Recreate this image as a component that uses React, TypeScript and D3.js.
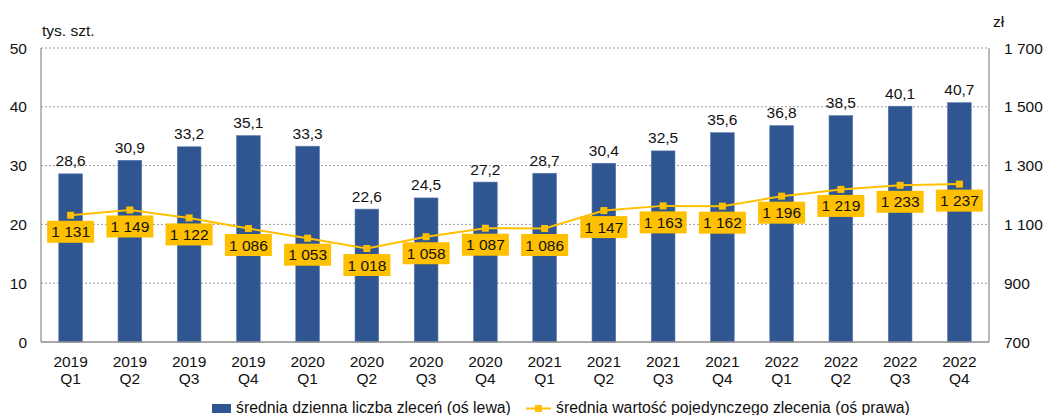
import React from "react";
import * as d3 from "d3";

const categories = ["2019 Q1","2019 Q2","2019 Q3","2019 Q4","2020 Q1","2020 Q2","2020 Q3","2020 Q4","2021 Q1","2021 Q2","2021 Q3","2021 Q4","2022 Q1","2022 Q2","2022 Q3","2022 Q4"];
const dailyOrders = [28.6, 30.9, 33.2, 35.1, 33.3, 22.6, 24.5, 27.2, 28.7, 30.4, 32.5, 35.6, 36.8, 38.5, 40.1, 40.7];
const avgValue = [1131, 1149, 1122, 1086, 1053, 1018, 1058, 1087, 1086, 1147, 1163, 1162, 1196, 1219, 1233, 1237];
const leftTicks = [0, 10, 20, 30, 40, 50];
const rightTicks = [700, 900, 1100, 1300, 1500, 1700];
const legendBar = "średnia dzienna liczba zleceń (oś lewa)";
const legendLine = "średnia wartość pojedynczego zlecenia (oś prawa)";

const W = 1044, H = 415;
const L = 41, R = 989, T = 48, B = 342;
const FONT = "'Liberation Sans', Arial, sans-serif";
const BAR = "#2F5690";
const GOLD = "#FFC000";
const AXIS = "#8C8C8C";
const FS = 15.5;

const fmtDec = (v: number) => v.toFixed(1).replace(".", ",");
const fmtInt = (v: number) => {
  const s = String(Math.round(v));
  return s.replace(/\B(?=(\d{3})+(?!\d))/g, " ");
};

export default function App() {
  const x = d3.scaleBand<string>().domain(categories).range([L, R]).paddingInner(0.6).paddingOuter(0.3);
  const yL = d3.scaleLinear().domain([0, 50]).range([B, T]);
  const yR = d3.scaleLinear().domain([700, 1700]).range([B, T]);
  const cx = (c: string) => (x(c) as number) + x.bandwidth() / 2;
  const line = d3.line<number>().x((_, i) => cx(categories[i])).y((d) => yR(d));
  const boxH = 22;

  return (
    <svg width={W} height={H} style={{ position: "absolute", left: 0, top: 0, background: "#fff" }} fontFamily={FONT}>
      {/* gridlines */}
      {leftTicks.filter((t) => t > 0).map((t) => (
        <line key={"g" + t} x1={L} x2={R} y1={yL(t)} y2={yL(t)} stroke="#9A9A9A" strokeWidth={1} strokeDasharray="2,2" />
      ))}
      {/* bars */}
      {categories.map((c, i) => (
        <rect key={"b" + c} x={x(c)} y={yL(dailyOrders[i])} width={x.bandwidth()} height={B - yL(dailyOrders[i])} fill={BAR} stroke="#5B7BAD" strokeWidth={0.6} />
      ))}
      {/* axes frame */}
      <line x1={L} x2={L} y1={T} y2={B} stroke={AXIS} strokeWidth={1.2} />
      <line x1={R} x2={R} y1={T} y2={B} stroke={AXIS} strokeWidth={1.2} />
      <line x1={L} x2={R} y1={B} y2={B} stroke={AXIS} strokeWidth={1.4} />
      {/* bar labels */}
      {categories.map((c, i) => (
        <text key={"v" + c} x={cx(c)} y={yL(dailyOrders[i]) - 7.5} textAnchor="middle" fontSize={FS} fill="#111">{fmtDec(dailyOrders[i])}</text>
      ))}
      {/* line */}
      <path d={line(avgValue) || ""} fill="none" stroke={GOLD} strokeWidth={2} />
      {categories.map((c, i) => (
        <rect key={"m" + c} x={cx(c) - 3.5} y={yR(avgValue[i]) - 3.5} width={7} height={7} fill={GOLD} />
      ))}
      {/* line labels */}
      {categories.map((c, i) => {
        const cy = yR(avgValue[i]) + 16.5;
        const bw = 47;
        return (
          <g key={"l" + c}>
            <rect x={cx(c) - bw / 2} y={cy - boxH / 2} width={bw} height={boxH} fill={GOLD} />
            <text x={cx(c)} y={cy + 5.5} textAnchor="middle" fontSize={FS} fill="#111">{fmtInt(avgValue[i])}</text>
          </g>
        );
      })}
      {/* left ticks */}
      {leftTicks.map((t) => (
        <text key={"lt" + t} x={27} y={yL(t) + 5.5} textAnchor="end" fontSize={FS} fill="#111">{t}</text>
      ))}
      {/* right ticks */}
      {rightTicks.map((t) => (
        <text key={"rt" + t} x={1004} y={yR(t) + 5.5} textAnchor="start" fontSize={FS} fill="#111">{fmtInt(t)}</text>
      ))}
      <text x={42} y={36} fontSize={FS} fill="#111">tys. szt.</text>
      <text x={993} y={27} fontSize={FS} fill="#111">zł</text>
      {/* category labels */}
      {categories.map((c) => {
        const [yr, q] = c.split(" ");
        return (
          <text key={"c" + c} x={cx(c)} textAnchor="middle" fontSize={FS} fill="#111">
            <tspan x={cx(c)} y={366.5}>{yr}</tspan>
            <tspan x={cx(c)} y={383.5}>{q}</tspan>
          </text>
        );
      })}
      {/* legend */}
      <rect x={212} y={404} width={19} height={9} fill={BAR} />
      <text x={236} y={413} fontSize={15.8} fill="#111">{legendBar}</text>
      <line x1={526} x2={551} y1={408.5} y2={408.5} stroke={GOLD} strokeWidth={2} />
      <rect x={535} y={405} width={7} height={7} fill={GOLD} />
      <text x={556} y={413} fontSize={15.8} fill="#111">{legendLine}</text>
    </svg>
  );
}
